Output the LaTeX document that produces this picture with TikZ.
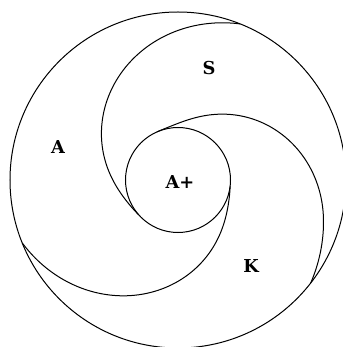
\documentclass[tikz,border=0pt]{standalone}
\usepackage{fontspec}
\setmainfont{DejaVu Serif}
\begin{document}
\begin{tikzpicture}[
  x=0.5pt,y=0.5pt,
  ring/.style={draw, line width=0.5pt},
  swirl/.style={draw, line width=0.5pt, smooth, samples=90, variable=\p},
  tag/.style={font=\bfseries\fontsize{8.9}{10}\selectfont, inner sep=0pt}
]
\useasboundingbox (-178,-167) rectangle (164,180);
\draw[ring] (0,0) circle[radius=168];
\draw[ring] (0,0) circle[radius=52.5];
\draw[swirl] plot[domain=0:153.2] ({221.5-\p}:{52.5+115.5*(\p/153.2-0.294*sin(180*min(\p/153.2,1))*(1-min(\p/153.2,1)))});
\draw[swirl] plot[domain=0:151.4] ({113.6-\p}:{52.5+115.5*(\p/151.4-0.27*sin(180*min(\p/128.69,1))*(1-min(\p/128.69,1)))});
\draw[swirl] plot[domain=0:151] ({353-\p}:{52.5+115.5*(\p/151-0.285*sin(180*min(\p/151,1))*(1-min(\p/151,1)))});
\node[tag] (a) at (-120,33) {A};
\node[tag] (s) at (31,112) {S};
\node[tag] (aplus) at (2,-2) {A+};
\node[tag] (k) at (73,-86) {K};
\end{tikzpicture}
\end{document}
